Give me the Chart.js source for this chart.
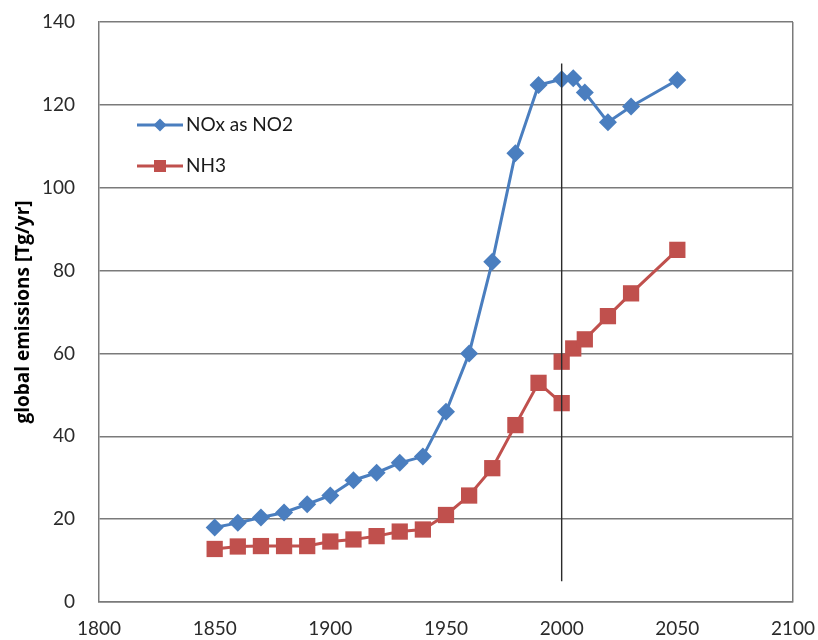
<!DOCTYPE html>
<html>
<head>
<meta charset="utf-8">
<script src="https://cdn.jsdelivr.net/npm/chart.js@4.4.1/dist/chart.umd.min.js"></script>
<style>
  html, body { margin: 0; padding: 0; background: #fff; }
  #wrap { width: 818px; height: 640px; }
</style>
</head>
<body>
<div id="wrap"><canvas id="emissions-chart" width="818" height="640"></canvas></div>
<script>
// Data
const noxYears = [1850, 1860, 1870, 1880, 1890, 1900, 1910, 1920, 1930, 1940, 1950,
  1960, 1970, 1980, 1990, 2000, 2005, 2010, 2020, 2030, 2050];
const noxValues = [18.0, 19.1, 20.4, 21.6, 23.6, 25.7, 29.4, 31.2, 33.6, 35.1, 45.9,
  60.0, 82.1, 108.3, 124.8, 126.2, 126.4, 123.0, 115.8, 119.6, 126.0];

// null breaks the line between the historical and the projected part at 2000
const nh3Years = [1850, 1860, 1870, 1880, 1890, 1900, 1910, 1920, 1930, 1940, 1950,
  1960, 1970, 1980, 1990, 2000, 2000, 2000, 2005, 2010, 2020, 2030, 2050];
const nh3Values = [12.8, 13.4, 13.5, 13.5, 13.5, 14.6, 15.1, 15.9, 17.0, 17.5, 21.0,
  25.7, 32.3, 42.7, 52.9, 48.0, null, 58.0, 61.2, 63.4, 69.0, 74.5, 85.0];

// vertical marker line at the year 2000
const markerYears = [2000, 2000];
const markerValues = [5, 130];

const xTicks = [1800, 1850, 1900, 1950, 2000, 2050, 2100];
const yTicks = [0, 20, 40, 60, 80, 100, 120, 140];

const labels = ["NOx as NO2", "NH3"];

const FONT = 'Lato, "Open Sans", sans-serif';
const GRID = "#7a7a7a";
const NONE = "rgba(0,0,0,0)";

function toPoints(xs, ys) {
  return xs.map((x, i) => ({ x: x, y: ys[i] }));
}

// Excel-like legend inside the plot area: short line with marker and label
const insideLegend = {
  id: "insideLegend",
  afterDraw(chart) {
    const ctx = chart.ctx;
    const rows = [
      { ds: chart.data.datasets[1], y: 125, r: 6.5 },
      { ds: chart.data.datasets[2], y: 166, r: 8.5 },
    ];
    ctx.save();
    rows.forEach((row) => {
      const ds = row.ds;
      ctx.strokeStyle = ds.borderColor;
      ctx.lineWidth = 3;
      ctx.beginPath();
      ctx.moveTo(137, row.y);
      ctx.lineTo(183, row.y);
      ctx.stroke();
      ctx.fillStyle = ds.pointBackgroundColor;
      ctx.beginPath();
      if (ds.pointStyle === "rectRot") {
        ctx.moveTo(160 - row.r, row.y);
        ctx.lineTo(160, row.y - row.r);
        ctx.lineTo(160 + row.r, row.y);
        ctx.lineTo(160, row.y + row.r);
        ctx.closePath();
      } else {
        const s = row.r * Math.SQRT1_2;
        ctx.rect(160 - s, row.y - s, 2 * s, 2 * s);
      }
      ctx.fill();
      ctx.fillStyle = "#1a1a1a";
      ctx.font = "19px " + FONT;
      ctx.textBaseline = "middle";
      ctx.textAlign = "left";
      ctx.fillText(ds.label, 186, row.y);
    });
    ctx.restore();
  },
};

const ctx = document.getElementById("emissions-chart").getContext("2d");

window.emissionsChart = new Chart(ctx, {
  type: "scatter",
  data: {
    datasets: [
      {
        label: "",
        data: toPoints(markerYears, markerValues),
        showLine: true,
        borderColor: "#2b2b2b",
        borderWidth: 1.4,
        pointRadius: 0,
        order: 0,
      },
      {
        label: labels[0],
        data: toPoints(noxYears, noxValues),
        showLine: true,
        borderColor: "#4a7ebf",
        borderWidth: 3,
        pointStyle: "rectRot",
        pointRadius: 9,
        pointBackgroundColor: "#4a7ebf",
        pointBorderColor: "#4a7ebf",
        pointBorderWidth: 0,
        order: 1,
      },
      {
        label: labels[1],
        data: toPoints(nh3Years, nh3Values),
        showLine: true,
        spanGaps: false,
        borderColor: "#c0504d",
        borderWidth: 3,
        pointStyle: "rect",
        pointRadius: 11.5,
        pointBackgroundColor: "#c0504d",
        pointBorderColor: "#c0504d",
        pointBorderWidth: 0,
        order: 2,
      },
    ],
  },
  options: {
    responsive: false,
    animation: false,
    devicePixelRatio: 1,
    layout: {
      padding: { top: 22, right: 25, left: 0, bottom: 0 },
    },
    scales: {
      x: {
        type: "linear",
        min: 1800,
        max: 2100,
        afterBuildTicks: (scale) => {
          scale.ticks = xTicks.map((v) => ({ value: v }));
        },
        afterFit: (scale) => {
          scale.height = 38;
        },
        ticks: {
          padding: 0,
          color: "#2a2a2a",
          font: { family: FONT, size: 19 },
          callback: (v) => String(v),
        },
        grid: {
          drawTicks: true,
          tickLength: 15,
          tickColor: NONE,
          lineWidth: 1.5,
          color: (c) => (c.tick && c.tick.value === 2100 ? GRID : NONE),
        },
        border: { display: true, color: GRID, width: 1.5 },
      },
      y: {
        type: "linear",
        min: 0,
        max: 140,
        afterBuildTicks: (scale) => {
          scale.ticks = yTicks.map((v) => ({ value: v }));
        },
        afterFit: (scale) => {
          scale.width = 99;
        },
        title: {
          display: true,
          text: "global emissions [Tg/yr]",
          color: "#000",
          font: { family: '"Open Sans", Lato, sans-serif', size: 19, weight: "bold" },
          padding: { top: 12, bottom: 0 },
        },
        ticks: {
          padding: 0,
          color: "#2a2a2a",
          font: { family: FONT, size: 19 },
        },
        grid: {
          drawTicks: true,
          tickLength: 24,
          tickColor: NONE,
          color: GRID,
          lineWidth: 1.5,
        },
        border: { display: true, color: GRID, width: 1.5 },
      },
    },
    plugins: {
      legend: { display: false },
      tooltip: { enabled: false },
    },
  },
  plugins: [insideLegend],
});
</script>
</body>
</html>
